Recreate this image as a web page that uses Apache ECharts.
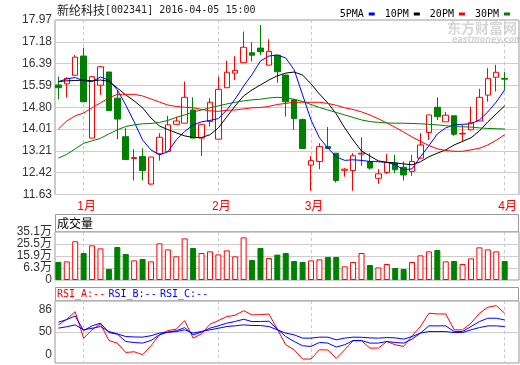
<!DOCTYPE html>
<html><head><meta charset="utf-8">
<script src="https://cdn.jsdelivr.net/npm/echarts@6/dist/echarts.min.js"></script>
<style>html,body{margin:0;padding:0;background:#fff}#c{width:520px;height:365px}</style>
</head><body><div id="c"></div>
<script>
// ---- tick labels ----
const monthTicks = [3, 19, 30, 53];
const monthLabels = ['1月', '2月', '3月', '4月'];
const priceTickLabels = ['11.63','12.42','13.21','14.01','14.80','15.59','16.39','17.18','17.97'];
const volTickLabels = ['0','6.3万','15.9万','25.5万','35.1万'];
const rsiTickValues = [0, 50, 86];
const maNames = ['5PMA', '10PM', '20PM', '30PM'];

// ---- daily candles ----
const open  = [15.61,15.65,15.96,16.66,13.68,15.60,16.08,15.13,13.73,12.94,13.01,12.01,13.11,13.19,14.18,14.22,14.70,13.68,14.28,13.64,15.51,16.04,16.42,16.78,16.95,16.33,16.69,15.97,15.07,14.35,12.70,12.83,13.37,13.13,12.51,12.50,13.10,12.83,12.22,12.43,12.77,12.62,12.47,12.95,13.88,14.80,14.27,14.49,13.83,13.98,14.30,15.24,15.89,15.85];
const close = [15.51,15.85,16.62,15.00,15.91,16.27,14.68,14.37,12.90,12.97,12.50,12.99,13.71,14.16,14.30,15.16,13.68,14.18,14.98,15.45,16.07,16.14,16.98,16.69,16.82,16.83,16.09,15.00,14.39,13.30,12.86,13.37,13.30,12.14,12.55,13.04,13.13,12.59,12.38,12.79,12.53,12.34,12.83,13.43,14.52,14.46,14.51,13.82,13.85,14.24,15.16,15.85,16.07,15.82];
const low   = [15.09,15.16,15.96,14.98,13.68,15.25,14.68,13.64,12.90,12.14,12.14,11.98,12.86,13.19,14.16,14.22,13.68,13.03,14.10,13.64,15.51,15.79,16.42,16.46,16.70,16.33,15.69,14.46,13.98,13.30,11.77,12.55,13.28,12.06,12.28,11.77,12.67,12.53,12.02,12.38,12.41,12.14,12.31,12.95,13.61,14.34,14.27,13.76,13.55,13.96,14.30,15.00,15.37,15.43];
const high  = [15.91,15.89,16.70,16.96,15.94,16.30,16.08,15.43,14.04,13.28,13.31,13.00,13.86,14.49,14.46,15.73,15.16,14.18,15.13,15.91,16.49,16.66,17.55,17.16,17.79,17.27,16.69,15.97,15.10,14.39,13.03,13.49,14.08,13.13,12.59,13.13,13.71,13.13,12.55,13.10,13.07,12.83,13.07,13.86,14.52,15.16,14.63,14.49,14.16,14.82,15.47,16.22,16.34,16.09];

// ---- moving averages ----
const ma5  = [15.73,15.83,15.88,15.76,15.73,15.90,15.79,15.43,14.88,14.27,13.61,13.25,13.07,13.18,13.61,13.92,14.16,14.27,14.32,14.39,14.70,15.10,15.57,15.99,16.48,16.66,16.70,16.59,16.16,15.25,14.34,13.69,13.32,13.00,12.87,12.89,12.87,12.83,12.82,12.80,12.71,12.53,12.56,13.00,13.40,13.83,14.05,14.16,14.18,14.20,14.34,14.63,14.99,15.43];
const ma10 = [15.73,15.76,15.77,15.79,15.76,15.79,15.74,15.50,15.25,15.03,14.78,14.41,14.12,13.99,13.87,13.76,13.70,13.70,13.80,14.05,14.45,14.85,15.21,15.43,15.61,15.79,15.94,16.04,16.08,15.97,15.65,15.28,14.96,14.56,14.05,13.61,13.21,13.03,12.85,12.80,12.78,12.74,12.71,12.82,13.00,13.13,13.25,13.43,13.56,13.69,13.94,14.27,14.56,14.85];
const ma20 = [14.01,14.30,14.49,14.59,14.78,14.96,15.14,15.27,15.27,15.27,15.21,15.10,14.99,14.88,14.83,14.80,14.78,14.72,14.67,14.65,14.69,14.70,14.74,14.78,14.79,14.83,14.90,14.94,14.98,14.98,14.98,14.98,14.94,14.87,14.78,14.72,14.63,14.52,14.38,14.23,14.07,13.90,13.72,13.56,13.41,13.29,13.23,13.20,13.20,13.25,13.31,13.43,13.60,13.80];
const ma30 = [12.95,13.09,13.29,13.49,13.58,13.67,13.83,13.98,14.10,14.16,14.20,14.21,14.25,14.32,14.43,14.52,14.63,14.70,14.78,14.85,14.92,14.98,15.03,15.07,15.09,15.14,15.16,15.14,15.09,15.01,14.90,14.79,14.70,14.61,14.52,14.43,14.34,14.28,14.25,14.23,14.22,14.22,14.21,14.20,14.18,14.16,14.13,14.10,14.09,14.08,14.05,14.03,14.02,14.01];

// ---- volume (bar height on the panel scale, 9.6 per grid step) ----
const volumeBar = [14.4,14.9,31.0,21.6,27.7,25.3,8.8,26.4,20.8,15.7,16.8,14.9,29.3,24.5,18.9,33.3,25.6,21.6,22.9,20.5,23.7,18.9,34.1,16.0,25.6,17.6,20.3,21.6,15.2,14.4,15.7,16.5,18.4,18.4,10.9,14.4,21.6,12.0,10.1,12.8,9.6,8.8,14.4,19.7,22.9,24.0,14.9,15.2,12.8,17.3,26.1,24.5,22.9,15.2];

// ---- RSI ----
const rsiA = [61.5,70.6,82.8,40,53.5,63,36.3,32,17,18.1,13.3,27.8,45.4,52.3,54.6,68.4,40.1,47,62.6,68.4,74.8,77,84.4,77.5,78,79,54.6,29.4,21.3,6.4,6.4,21.3,21,7.4,21.3,35.8,35.8,24,24,34.7,29.4,26.7,43.8,58.8,80.3,79.1,79.1,53.5,53.5,64.2,80.3,89.9,92.5,80.3];
const rsiB = [65.8,70,75.9,52.3,59.9,64.2,49.1,46.5,34.7,33,32.1,36.3,45.4,49.8,52,57.1,45.4,49.8,56.2,60,64.2,67,70.6,66.8,67,67.4,54.6,42.7,34.7,27.8,26.7,33.1,32.1,25.7,29.4,36.3,36.3,32.1,32.1,34.7,33.1,32.1,38.5,48.2,59.9,59.9,59.9,50.7,50.7,58.8,66.8,72.2,72.2,69.5];
const rsiC = [56.2,58.5,61.5,53.5,56,58.8,50.7,47,42.7,42,41.7,44,48.2,49.5,50.7,53.5,48.2,51,53.5,56,58.8,60,61.5,60.5,60.4,58.8,53.5,48.2,45.4,40.1,40.1,41.7,41.7,37.4,40.1,41.7,41.5,40.5,40.1,41,40.5,38.5,42.7,48.2,50.7,50.7,50.7,49.1,49.1,53.5,57.1,59.9,59.9,58.8];

const RED = '#ff0000', GREEN = '#008000', BLUE = '#0000ff', BLACK = '#000000';
const GRIDC = '#cccccc', BORDER = '#999999', LBL = '#333333';
const FONT = "'Liberation Sans','Noto Sans CJK SC',sans-serif";
const MONO = "'DejaVu Sans Mono',monospace";
const N = open.length;
const idx = open.map((_, i) => i);
const pair = arr => idx.map(i => [i, arr[i]]);

const pMin = 11.63, pMax = 17.97, pStep = (pMax - pMin) / 8;
const vStep = 9.6;

function makeX(gi, withLabel) {
  return {
    type: 'value', gridIndex: gi, min: -0.4, max: N + 0.7,
    axisLine: { show: false },
    axisTick: { show: false, customValues: monthTicks },
    splitLine: { show: true, lineStyle: { color: '#c8c8c8', type: [3, 3], width: 1 } },
    axisLabel: withLabel ? {
      show: true, customValues: monthTicks,
      formatter: v => monthLabels[monthTicks.indexOf(Math.round(v))] || '',
      color: RED, fontSize: 12, margin: 6, padding: [0, 0, 0, 6], fontFamily: FONT
    } : { show: false }
  };
}

const chart = echarts.init(document.getElementById('c'), null, { renderer: 'canvas' });
chart.setOption({
  animation: false,
  backgroundColor: '#ffffff',
  grid: [
    { left: 55, top: 20, width: 464, height: 174.5, show: true, borderColor: BORDER, borderWidth: 1 },
    { left: 55, top: 232, width: 464, height: 48, show: true, borderColor: BORDER, borderWidth: 1 },
    { left: 55, top: 301, width: 464, height: 62, show: true, borderColor: BORDER, borderWidth: 1 }
  ],
  legend: {
    data: maNames, right: 5, top: 4, align: 'right', icon: 'rect',
    itemWidth: 6, itemHeight: 3, itemGap: 10, selectedMode: false,
    textStyle: { fontFamily: MONO, fontSize: 10, color: '#000' }
  },
  xAxis: [makeX(0, true), makeX(1, false), makeX(2, false)],
  yAxis: [
    {
      type: 'value', gridIndex: 0, min: pMin, max: pMax, interval: pStep,
      axisLine: { show: false }, axisTick: { show: false },
      splitLine: { lineStyle: { color: GRIDC } },
      axisLabel: { formatter: v => priceTickLabels[Math.round((v - pMin) / pStep)], color: LBL, fontSize: 12, margin: 3, fontFamily: FONT }
    },
    {
      type: 'value', gridIndex: 1, min: 0, max: vStep * 4, interval: vStep,
      axisLine: { show: false }, axisTick: { show: false },
      splitLine: { lineStyle: { color: GRIDC } },
      axisLabel: { formatter: v => volTickLabels[Math.round(v / vStep)], color: LBL, fontSize: 12, margin: 3, fontFamily: FONT }
    },
    {
      type: 'value', gridIndex: 2, min: 0, max: 100, interval: 50,
      axisLine: { show: false }, axisTick: { show: false },
      splitLine: { lineStyle: { color: GRIDC } },
      axisLabel: {
        customValues: rsiTickValues,
        formatter: v => v === 0 ? '{lo|0}' : String(v),
        rich: { lo: { padding: [0, 0, 16, 0], fontSize: 12, color: LBL, fontFamily: FONT } },
        color: LBL, fontSize: 12, margin: 3, fontFamily: FONT
      }
    }
  ],
  graphic: [
    { type: 'text', x: 447, y: 21, z: -1, style: { text: '东方财富网', fontFamily: "'Noto Sans CJK SC'", fontWeight: 'bold', fontSize: 14, fill: '#d6d6d6' } },
    { type: 'text', x: 452, y: 36, z: -1, style: { text: 'eastmoney.com', fontFamily: "'DejaVu Sans'", fontStyle: 'italic', fontWeight: 'bold', fontSize: 8, fill: '#d6d6d6' } },
    { type: 'text', x: 57, y: 10, style: { text: '{c|新纶科技}{a|[002341] 2016-04-05 15:00}', verticalAlign: 'middle',
      rich: { c: { fontFamily: "'Noto Sans CJK SC'", fontSize: 12, fill: '#222' }, a: { fontFamily: MONO, fontSize: 10, fill: '#222' } } } },
    { type: 'rect', shape: { x: 55.5, y: 214.5, width: 463, height: 17.5 }, style: { fill: 'none', stroke: BORDER, lineWidth: 1 } },
    { type: 'text', x: 57, y: 223.5, style: { text: '成交量', verticalAlign: 'middle', fontFamily: "'Noto Sans CJK SC'", fontSize: 12, fill: '#000' } },
    { type: 'rect', shape: { x: 55.5, y: 287.5, width: 463, height: 13.5 }, style: { fill: 'none', stroke: BORDER, lineWidth: 1 } },
    { type: 'text', x: 57, y: 294.5, style: { text: '{a|RSI_A:--} {b|RSI_B:--} {b|RSI_C:--}', verticalAlign: 'middle',
      rich: { a: { fontFamily: MONO, fontSize: 10, fill: RED }, b: { fontFamily: MONO, fontSize: 10, fill: BLUE } } } }
  ],
  series: [
    {
      type: 'candlestick', xAxisIndex: 0, yAxisIndex: 0, barWidth: 6,
      data: idx.map(i => [i, open[i], close[i], low[i], high[i]]),
      itemStyle: { color: '#ffffff', color0: GREEN, borderColor: RED, borderColor0: GREEN, borderWidth: 1 }
    },
    { name: maNames[0], type: 'line', xAxisIndex: 0, yAxisIndex: 0, data: pair(ma5), symbol: 'none', color: BLUE, lineStyle: { width: 1, color: BLUE } },
    { name: maNames[1], type: 'line', xAxisIndex: 0, yAxisIndex: 0, data: pair(ma10), symbol: 'none', color: BLACK, lineStyle: { width: 1, color: BLACK } },
    { name: maNames[2], type: 'line', xAxisIndex: 0, yAxisIndex: 0, data: pair(ma20), symbol: 'none', color: RED, lineStyle: { width: 1, color: RED } },
    { name: maNames[3], type: 'line', xAxisIndex: 0, yAxisIndex: 0, data: pair(ma30), symbol: 'none', color: GREEN, lineStyle: { width: 1, color: GREEN } },
    {
      type: 'bar', xAxisIndex: 1, yAxisIndex: 1, barWidth: 6,
      data: idx.map(i => ({
        value: [i, volumeBar[i]],
        itemStyle: close[i] > open[i]
          ? { color: '#ffffff', borderColor: RED, borderWidth: 1 }
          : { color: GREEN, borderColor: GREEN, borderWidth: 1 }
      }))
    },
    { type: 'line', xAxisIndex: 2, yAxisIndex: 2, data: pair(rsiA), symbol: 'none', lineStyle: { width: 1, color: RED } },
    { type: 'line', xAxisIndex: 2, yAxisIndex: 2, data: pair(rsiB), symbol: 'none', lineStyle: { width: 1, color: BLUE } },
    { type: 'line', xAxisIndex: 2, yAxisIndex: 2, data: pair(rsiC), symbol: 'none', lineStyle: { width: 1, color: BLUE } }
  ]
});
</script>
</body></html>
